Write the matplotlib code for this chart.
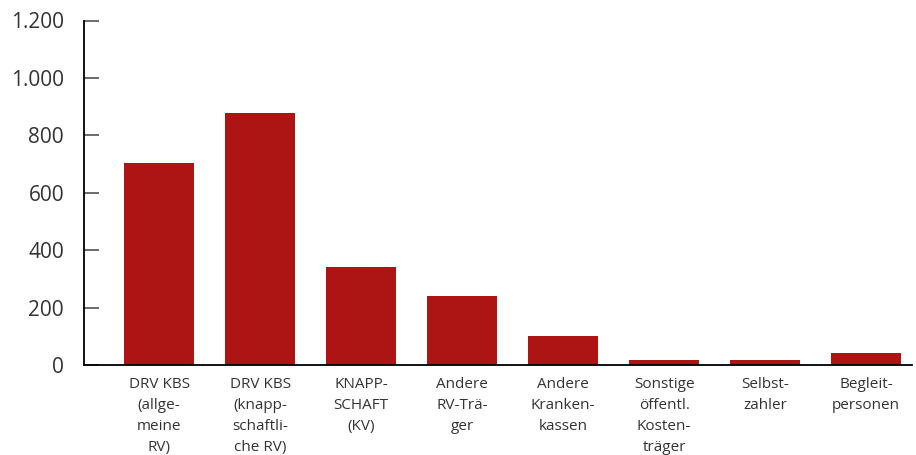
import numpy as np
import matplotlib.pyplot as plt

# Daten
kategorien = ['DRV KBS\n(allge-\nmeine\nRV)',
              'DRV KBS\n(knapp-\nschaftli-\nche RV)',
              'KNAPP-\nSCHAFT\n(KV)',
              'Andere\nRV-Trä-\nger',
              'Andere\nKranken-\nkassen',
              'Sonstige\nöffentl.\nKosten-\nträger',
              'Selbst-\nzahler',
              'Begleit-\npersonen']
werte = [703, 877, 341, 240, 101, 17, 17, 42]
yticks = [0, 200, 400, 600, 800, 1000, 1200]
ytick_labels = ['0', '200', '400', '600', '800', '1.000', '1.200']

plt.rcParams['font.family'] = ['Open Sans', 'DejaVu Sans']

fig = plt.figure(figsize=(9.16, 4.55), dpi=100)
ax = fig.add_axes([83.5/916, 1-365/455, (911.5-83.5)/916, (365-20.5)/455])

x = np.arange(len(werte))
ax.bar(x, werte, width=0.693, color='#AD1414')

ax.set_xlim(-0.75, 7.45)
ax.set_ylim(0, 1200)
ax.set_yticks(yticks)
ax.set_yticklabels(ytick_labels, fontsize=15, color='#333333')
ax.set_xticks(x)
ax.set_xticklabels(kategorien, fontsize=11, color='#333333', linespacing=1.52, va='top')

ax.tick_params(axis='y', direction='in', length=10.5, width=1.1, color='#444444', pad=14)
ax.tick_params(axis='x', length=0, pad=9)

for s in ['top', 'right']:
    ax.spines[s].set_visible(False)
ax.spines['left'].set_linewidth(1.3)
ax.spines['bottom'].set_linewidth(1.3)

fig.savefig('out.png', dpi=100)
